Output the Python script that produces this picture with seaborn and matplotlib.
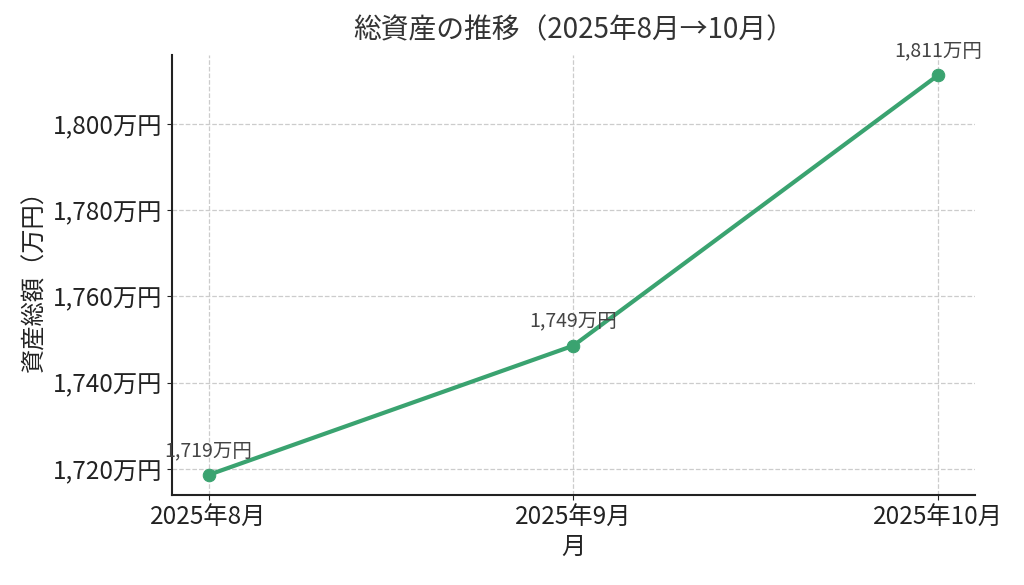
import matplotlib
matplotlib.use("Agg")
import matplotlib.pyplot as plt
import seaborn as sns
import pandas as pd

months = ["2025年8月", "2025年9月", "2025年10月"]
assets = [1718.6, 1748.6, 1811.4]
yticks = [1720, 1740, 1760, 1780, 1800]

sns.set_style("ticks")
plt.rcParams['font.family'] = ['Noto Sans CJK JP', 'DejaVu Sans']

df = pd.DataFrame({"month": months, "assets": assets})

fig = plt.figure(figsize=(10.24, 5.85), dpi=100)
ax = fig.add_axes([0.168, 0.154, 0.784, 0.752])
color = "#3AA370"
sns.lineplot(data=df, x="month", y="assets", ax=ax, color=color, linewidth=3,
             marker="o", markersize=9, markeredgecolor=color, sort=False)

for i, v in enumerate(assets):
    ax.annotate(f"{v:,.0f}万円", (i, v), xytext=(0, 10), textcoords="offset points",
                ha="center", va="bottom", fontsize=14, color="#444444")

ax.set_yticks(yticks)
ax.set_yticklabels([f"{t:,}万円" for t in yticks])
ax.tick_params(axis="both", labelsize=17.5, colors="#222222")
ax.grid(True, linestyle="--", color="#cccccc", linewidth=0.9)
sns.despine(ax=ax)
for s in ["left", "bottom"]:
    ax.spines[s].set_linewidth(1.5)
    ax.spines[s].set_color("#222222")
ax.set_title("総資産の推移（2025年8月→10月）", fontsize=20, color="#333333", pad=12)
ax.set_xlabel("月", fontsize=17.5, color="#222222", labelpad=2)
ax.set_ylabel("資産総額（万円）", fontsize=17.5, color="#222222")

fig.savefig("out.png", dpi=100)
